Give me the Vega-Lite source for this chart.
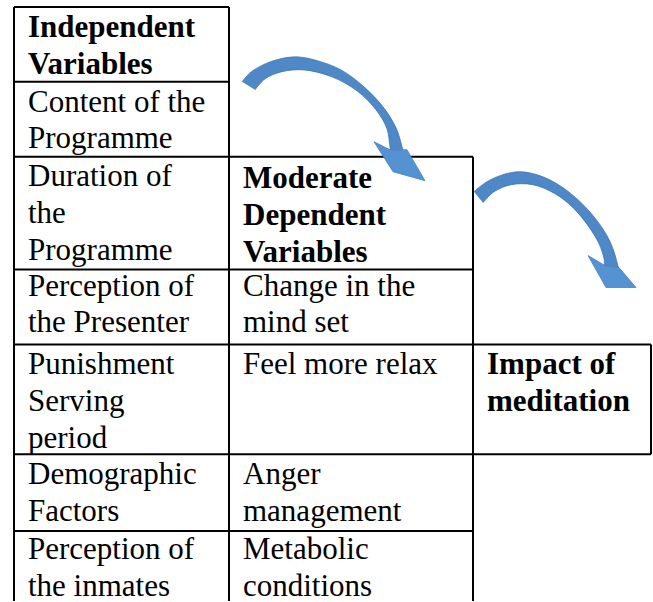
{
  "$schema": "https://vega.github.io/schema/vega-lite/v6.json",
  "width": 653,
  "height": 602,
  "autosize": {"type": "fit", "contains": "padding"},
  "padding": 0,
  "background": "white",
  "config": {"view": {"stroke": null}},
  "datasets": {
    "lines": [
      {"x": 14, "x2": 14, "y": 7, "y2": 602},
      {"x": 229, "x2": 229, "y": 7, "y2": 602},
      {"x": 473, "x2": 473, "y": 157, "y2": 602},
      {"x": 651, "x2": 651, "y": 345, "y2": 455},
      {"x": 14, "x2": 229, "y": 7, "y2": 7},
      {"x": 14, "x2": 229, "y": 82, "y2": 82},
      {"x": 14, "x2": 473, "y": 157, "y2": 157},
      {"x": 14, "x2": 473, "y": 270, "y2": 270},
      {"x": 14, "x2": 651, "y": 345, "y2": 345},
      {"x": 14, "x2": 651, "y": 455, "y2": 455},
      {"x": 14, "x2": 473, "y": 532, "y2": 532}
    ],
    "texts": [
      {"label": "Independent", "x": 28, "y": 37, "bold": true},
      {"label": "Variables", "x": 28, "y": 74, "bold": true},
      {"label": "Content of the", "x": 28, "y": 112, "bold": false},
      {"label": "Programme", "x": 28, "y": 148, "bold": false},
      {"label": "Duration of", "x": 28, "y": 186, "bold": false},
      {"label": "the", "x": 28, "y": 223, "bold": false},
      {"label": "Programme", "x": 28, "y": 260, "bold": false},
      {"label": "Perception of", "x": 28, "y": 296, "bold": false},
      {"label": "the Presenter", "x": 28, "y": 333, "bold": false},
      {"label": "Punishment", "x": 28, "y": 375, "bold": false},
      {"label": "Serving", "x": 28, "y": 412, "bold": false},
      {"label": "period", "x": 28, "y": 449, "bold": false},
      {"label": "Demographic", "x": 28, "y": 485, "bold": false},
      {"label": "Factors", "x": 28, "y": 522, "bold": false},
      {"label": "Perception of", "x": 28, "y": 560, "bold": false},
      {"label": "the inmates", "x": 28, "y": 597, "bold": false},
      {"label": "Moderate", "x": 243, "y": 188, "bold": true},
      {"label": "Dependent", "x": 243, "y": 225, "bold": true},
      {"label": "Variables", "x": 243, "y": 262, "bold": true},
      {"label": "Change in the", "x": 243, "y": 296, "bold": false},
      {"label": "mind set", "x": 243, "y": 333, "bold": false},
      {"label": "Feel more relax", "x": 243, "y": 375, "bold": false},
      {"label": "Anger", "x": 243, "y": 485, "bold": false},
      {"label": "management", "x": 243, "y": 522, "bold": false},
      {"label": "Metabolic", "x": 243, "y": 560, "bold": false},
      {"label": "conditions", "x": 243, "y": 597, "bold": false},
      {"label": "Impact of", "x": 487, "y": 375, "bold": true},
      {"label": "meditation", "x": 487, "y": 412, "bold": true}
    ],
    "arrows": [
      {"arrow": "a1", "part": "body", "i": 1, "x": 242, "y": 82},
      {"arrow": "a1", "part": "body", "i": 2, "x": 250, "y": 73},
      {"arrow": "a1", "part": "body", "i": 3, "x": 263, "y": 65},
      {"arrow": "a1", "part": "body", "i": 4, "x": 280, "y": 59},
      {"arrow": "a1", "part": "body", "i": 5, "x": 298, "y": 57},
      {"arrow": "a1", "part": "body", "i": 6, "x": 318, "y": 61},
      {"arrow": "a1", "part": "body", "i": 7, "x": 341, "y": 70},
      {"arrow": "a1", "part": "body", "i": 8, "x": 364, "y": 87},
      {"arrow": "a1", "part": "body", "i": 9, "x": 383, "y": 107},
      {"arrow": "a1", "part": "body", "i": 10, "x": 396, "y": 128},
      {"arrow": "a1", "part": "body", "i": 11, "x": 402, "y": 147},
      {"arrow": "a1", "part": "body", "i": 12, "x": 404, "y": 157},
      {"arrow": "a1", "part": "body", "i": 13, "x": 392, "y": 157},
      {"arrow": "a1", "part": "body", "i": 14, "x": 390, "y": 147},
      {"arrow": "a1", "part": "body", "i": 15, "x": 387, "y": 129},
      {"arrow": "a1", "part": "body", "i": 16, "x": 376, "y": 110},
      {"arrow": "a1", "part": "body", "i": 17, "x": 357, "y": 91},
      {"arrow": "a1", "part": "body", "i": 18, "x": 332, "y": 77},
      {"arrow": "a1", "part": "body", "i": 19, "x": 304, "y": 70},
      {"arrow": "a1", "part": "body", "i": 20, "x": 281, "y": 72},
      {"arrow": "a1", "part": "body", "i": 21, "x": 265, "y": 79},
      {"arrow": "a1", "part": "body", "i": 22, "x": 255, "y": 90},
      {"arrow": "a1", "part": "head", "i": 1, "x": 407, "y": 150},
      {"arrow": "a1", "part": "head", "i": 2, "x": 425, "y": 181},
      {"arrow": "a1", "part": "head", "i": 3, "x": 393, "y": 172},
      {"arrow": "a1", "part": "head", "i": 4, "x": 374, "y": 142},
      {"arrow": "a1", "part": "head", "i": 5, "x": 390, "y": 150},
      {"arrow": "a2", "part": "body", "i": 1, "x": 474, "y": 192},
      {"arrow": "a2", "part": "body", "i": 2, "x": 487, "y": 182},
      {"arrow": "a2", "part": "body", "i": 3, "x": 503, "y": 175},
      {"arrow": "a2", "part": "body", "i": 4, "x": 520, "y": 172},
      {"arrow": "a2", "part": "body", "i": 5, "x": 540, "y": 176},
      {"arrow": "a2", "part": "body", "i": 6, "x": 560, "y": 186},
      {"arrow": "a2", "part": "body", "i": 7, "x": 580, "y": 202},
      {"arrow": "a2", "part": "body", "i": 8, "x": 597, "y": 221},
      {"arrow": "a2", "part": "body", "i": 9, "x": 609, "y": 240},
      {"arrow": "a2", "part": "body", "i": 10, "x": 616, "y": 259},
      {"arrow": "a2", "part": "body", "i": 11, "x": 618, "y": 274},
      {"arrow": "a2", "part": "body", "i": 12, "x": 606, "y": 274},
      {"arrow": "a2", "part": "body", "i": 13, "x": 604, "y": 259},
      {"arrow": "a2", "part": "body", "i": 14, "x": 599, "y": 244},
      {"arrow": "a2", "part": "body", "i": 15, "x": 588, "y": 226},
      {"arrow": "a2", "part": "body", "i": 16, "x": 573, "y": 208},
      {"arrow": "a2", "part": "body", "i": 17, "x": 555, "y": 194},
      {"arrow": "a2", "part": "body", "i": 18, "x": 533, "y": 185},
      {"arrow": "a2", "part": "body", "i": 19, "x": 511, "y": 185},
      {"arrow": "a2", "part": "body", "i": 20, "x": 494, "y": 192},
      {"arrow": "a2", "part": "body", "i": 21, "x": 483, "y": 203},
      {"arrow": "a2", "part": "head", "i": 1, "x": 619, "y": 268},
      {"arrow": "a2", "part": "head", "i": 2, "x": 636, "y": 288},
      {"arrow": "a2", "part": "head", "i": 3, "x": 606, "y": 288},
      {"arrow": "a2", "part": "head", "i": 4, "x": 588, "y": 256},
      {"arrow": "a2", "part": "head", "i": 5, "x": 605, "y": 266}
    ]
  },
  "layer": [
    {
      "data": {"name": "lines"},
      "mark": {"type": "rule", "color": "black", "strokeWidth": 2},
      "encoding": {
        "x": {"field": "x", "type": "quantitative", "scale": {"domain": [0, 653], "nice": false, "zero": false}, "axis": null},
        "x2": {"field": "x2"},
        "y": {"field": "y", "type": "quantitative", "scale": {"domain": [0, 602], "nice": false, "zero": false, "reverse": true}, "axis": null},
        "y2": {"field": "y2"}
      }
    },
    {
      "data": {"name": "arrows"},
      "transform": [{"filter": "datum.part === 'body'"}],
      "mark": {"type": "line", "fill": "#4f88c6", "stroke": "#3f72ae", "strokeWidth": 0.8, "strokeJoin": "round", "interpolate": "catmull-rom"},
      "encoding": {
        "x": {"field": "x", "type": "quantitative", "scale": {"domain": [0, 653], "nice": false, "zero": false}, "axis": null},
        "y": {"field": "y", "type": "quantitative", "scale": {"domain": [0, 602], "nice": false, "zero": false, "reverse": true}, "axis": null},
        "detail": {"field": "arrow", "type": "nominal"},
        "order": {"field": "i", "type": "quantitative"}
      }
    },
    {
      "data": {"name": "arrows"},
      "transform": [{"filter": "datum.part === 'head'"}],
      "mark": {"type": "line", "fill": "#5592d2", "stroke": "#4a80bd", "strokeWidth": 0.8, "strokeJoin": "miter", "interpolate": "linear-closed"},
      "encoding": {
        "x": {"field": "x", "type": "quantitative", "scale": {"domain": [0, 653], "nice": false, "zero": false}, "axis": null},
        "y": {"field": "y", "type": "quantitative", "scale": {"domain": [0, 602], "nice": false, "zero": false, "reverse": true}, "axis": null},
        "detail": {"field": "arrow", "type": "nominal"},
        "order": {"field": "i", "type": "quantitative"}
      }
    },
    {
      "data": {"name": "texts"},
      "transform": [{"filter": "datum.bold"}],
      "mark": {"type": "text", "align": "left", "baseline": "alphabetic", "font": "Liberation Serif", "fontSize": 31, "fontWeight": "bold", "color": "black"},
      "encoding": {
        "x": {"field": "x", "type": "quantitative", "scale": {"domain": [0, 653], "nice": false, "zero": false}, "axis": null},
        "y": {"field": "y", "type": "quantitative", "scale": {"domain": [0, 602], "nice": false, "zero": false, "reverse": true}, "axis": null},
        "text": {"field": "label"}
      }
    },
    {
      "data": {"name": "texts"},
      "transform": [{"filter": "!datum.bold"}],
      "mark": {"type": "text", "align": "left", "baseline": "alphabetic", "font": "Liberation Serif", "fontSize": 31, "color": "black"},
      "encoding": {
        "x": {"field": "x", "type": "quantitative", "scale": {"domain": [0, 653], "nice": false, "zero": false}, "axis": null},
        "y": {"field": "y", "type": "quantitative", "scale": {"domain": [0, 602], "nice": false, "zero": false, "reverse": true}, "axis": null},
        "text": {"field": "label"}
      }
    }
  ]
}
